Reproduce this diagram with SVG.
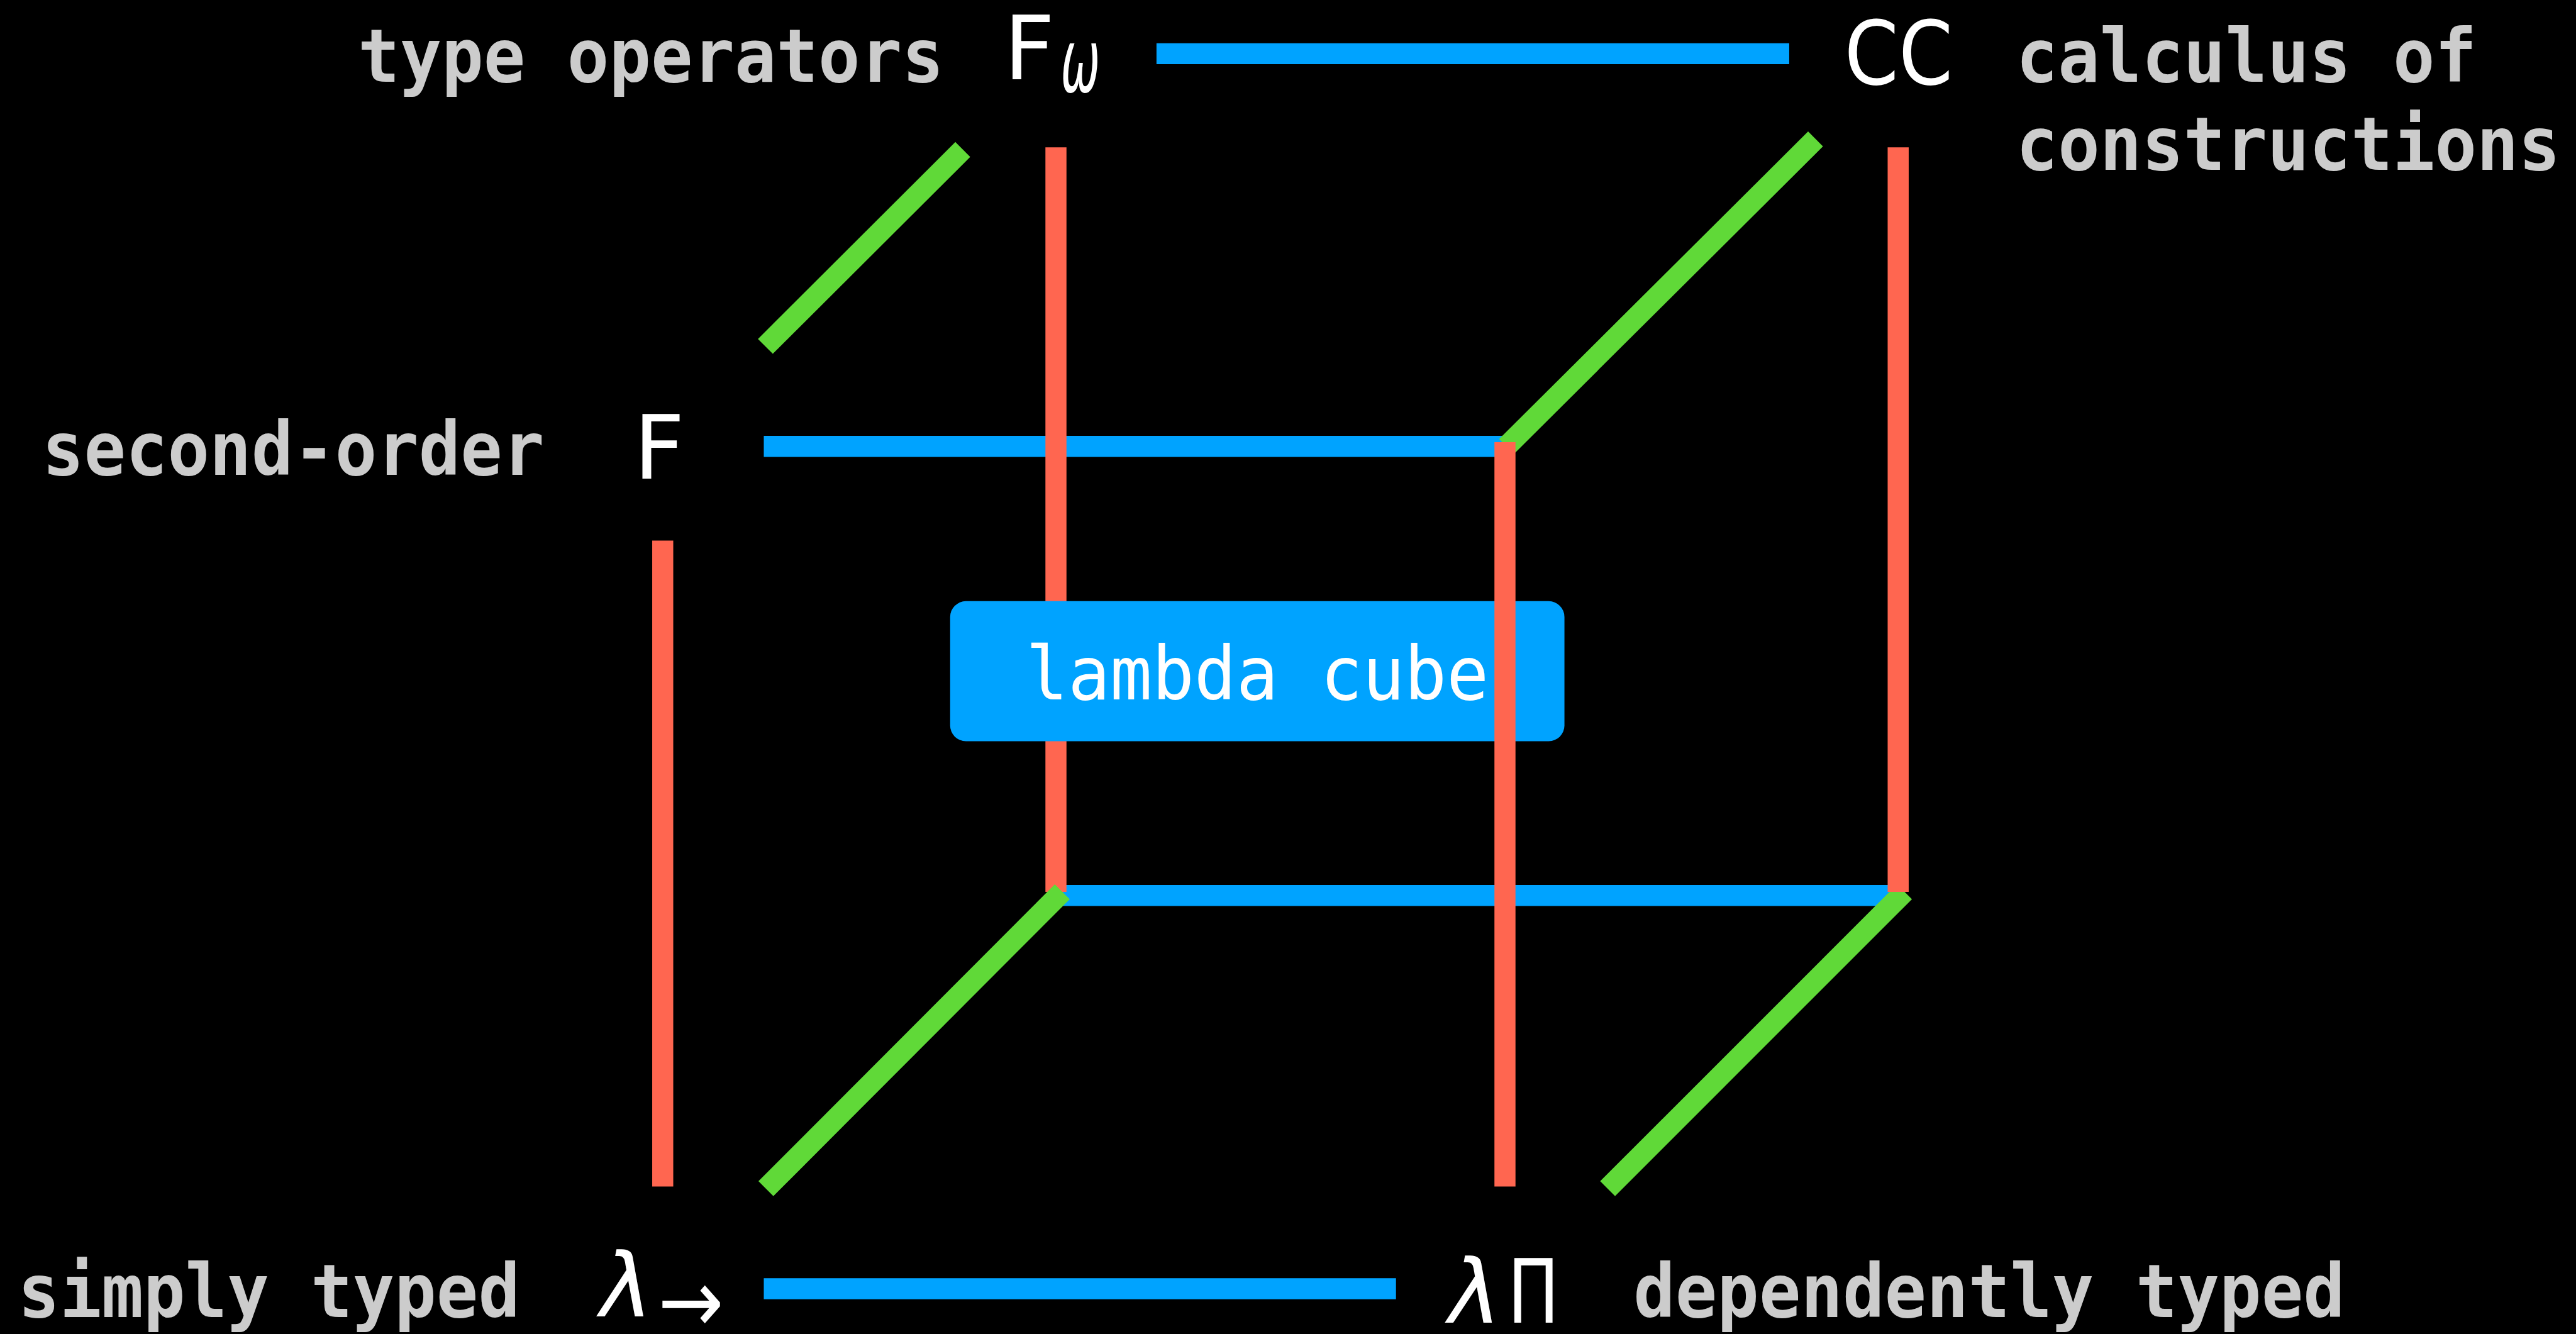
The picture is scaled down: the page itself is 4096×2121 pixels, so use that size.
<svg xmlns="http://www.w3.org/2000/svg" width="4096" height="2121" viewBox="0 0 4096 2121">
<style>
.bg{fill:#000}
.r{stroke:#FF6650;stroke-width:40;stroke-linecap:butt;fill:none}
.b{stroke:#00A3FF;stroke-width:40;stroke-linecap:butt;fill:none}
.g{stroke:#60D938;stroke-width:40;stroke-linecap:butt;fill:none}
.lbl{font-family:"DejaVu Sans Mono","Liberation Mono",monospace;font-weight:bold;font-size:140px;fill:#CCCCCC}
.sym{font-family:"DejaVu Sans","Liberation Sans",sans-serif;font-size:168px;fill:#FFFFFF}
.it{font-style:italic}
.box{fill:#00A3FF}
.boxt{font-family:"DejaVu Sans Mono","Liberation Mono",monospace;font-size:140px;fill:#FFFFFF}
</style>
<rect class="bg" x="0" y="0" width="4096" height="2121"/>
<g transform="scale(0.837)">
  <g id="connectors-back">
    <line class="b" x1="2197" y1="102" x2="3399" y2="102"/>
    <line class="b" x1="1451" y1="848" x2="2860" y2="848"/>
    <line class="b" x1="2006" y1="1701" x2="3606" y2="1701"/>
    <line class="b" x1="1451" y1="2448" x2="2652" y2="2448"/>
    <line class="r" x1="1259" y1="1027" x2="1259" y2="2254"/>
    <line class="r" x1="2006" y1="280" x2="2006" y2="1694"/>
    <line class="g" x1="1454" y1="658" x2="1829" y2="284"/>
    <line class="g" x1="1455" y1="2258" x2="2018" y2="1694"/>
  </g>
  <g id="lambda-cube">
    <rect class="box" x="1805" y="1142" width="1167" height="266" rx="30" ry="30"/>
    <text class="boxt" x="1949" y="1328" textLength="879" lengthAdjust="spacingAndGlyphs">lambda cube</text>
  </g>
  <g id="connectors-front">
    <line class="g" x1="2862" y1="848" x2="3449" y2="264"/>
    <line class="g" x1="3054" y1="2258" x2="3618" y2="1694"/>
    <line class="r" x1="2859" y1="840" x2="2859" y2="2254"/>
    <line class="r" x1="3606" y1="280" x2="3606" y2="1694"/>
  </g>
  <g id="node-Fomega">
    <text class="lbl" x="680" y="155" textLength="1113" lengthAdjust="spacingAndGlyphs">type operators</text>
    <text class="sym" x="1907" y="150">F</text>
    <text class="sym it" x="2015" y="174" font-size="112" textLength="75" lengthAdjust="spacingAndGlyphs">ω</text>
  </g>
  <g id="node-CC">
    <text class="sym" x="3504" y="160" textLength="206" lengthAdjust="spacingAndGlyphs">CC</text>
    <text class="lbl" x="3830" y="155" textLength="875" lengthAdjust="spacingAndGlyphs">calculus of</text>
    <text class="lbl" x="3830" y="323" textLength="1034" lengthAdjust="spacingAndGlyphs">constructions</text>
  </g>
  <g id="node-F">
    <text class="lbl" x="80" y="902" textLength="954" lengthAdjust="spacingAndGlyphs">second-order</text>
    <text class="sym" x="1204" y="909">F</text>
  </g>
  <g id="node-lambda-arrow">
    <text class="lbl" x="34" y="2502" textLength="954" lengthAdjust="spacingAndGlyphs">simply typed</text>
    <text class="sym it" x="1140" y="2500" font-size="172">λ</text>
    <text class="sym" x="1250" y="2531" font-size="112" textLength="125" lengthAdjust="spacingAndGlyphs">→</text>
  </g>
  <g id="node-lambda-pi">
    <text class="sym it" x="2752" y="2513" font-size="172">λ</text>
    <text class="sym" x="2864" y="2513" textLength="98" lengthAdjust="spacingAndGlyphs">Π</text>
    <text class="lbl" x="3103" y="2502" textLength="1352" lengthAdjust="spacingAndGlyphs">dependently typed</text>
  </g>
</g>
</svg>
